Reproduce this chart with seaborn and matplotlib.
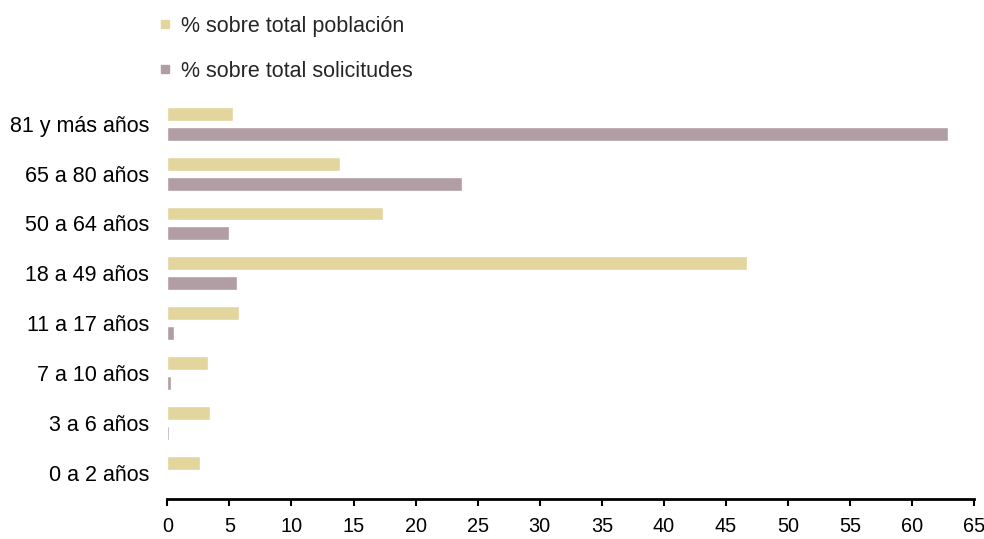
import matplotlib
matplotlib.use("Agg")
import matplotlib.pyplot as plt
from matplotlib.lines import Line2D
import seaborn as sns
import pandas as pd

categories = ["81 y más años", "65 a 80 años", "50 a 64 años", "18 a 49 años",
              "11 a 17 años", "7 a 10 años", "3 a 6 años", "0 a 2 años"]
poblacion = [5.3, 13.9, 17.4, 46.7, 5.8, 3.3, 3.45, 2.65]
solicitudes = [62.9, 23.75, 4.95, 5.6, 0.55, 0.3, 0.15, 0.05]
series = ["% sobre total población", "% sobre total solicitudes"]
colors = ["#E3D59E", "#B19DA4"]
xticks = list(range(0, 70, 5))

df = pd.DataFrame({
    "cat": categories * 2,
    "val": poblacion + solicitudes,
    "serie": [series[0]] * len(categories) + [series[1]] * len(categories),
})

sns.set_theme(style="white")
plt.rcParams["font.family"] = ["Liberation Sans", "DejaVu Sans"]

W, H = 984, 539
fig = plt.figure(figsize=(W / 100, H / 100), dpi=100)
x0, x1 = 167.3, 974.3
ytop, ybot = 93.7, 499.0
ax = fig.add_axes([x0 / W, (H - ybot) / H, (x1 - x0) / W, (ybot - ytop) / H])

sns.barplot(data=df, y="cat", x="val", hue="serie", order=categories,
            hue_order=series, palette=colors, width=0.8, gap=0.3,
            orient="h", ax=ax, legend=False, saturation=1)

FS = 15.5
ax.set_xlim(0, 65)
ax.set_ylim(7.52, -0.6)
ax.set_xticks(xticks)
ax.set_xticklabels([str(t) for t in xticks], fontsize=14.3)
ax.set_yticks(range(len(categories)))
ax.set_yticklabels(categories, fontsize=FS)
ax.set_xlabel("")
ax.set_ylabel("")
for s in ["top", "right", "left"]:
    ax.spines[s].set_visible(False)
ax.spines["bottom"].set_linewidth(2)
ax.spines["bottom"].set_color("black")
ax.tick_params(axis="x", direction="out", length=5, width=1.5, color="black",
               pad=8, labelcolor="black", bottom=True)
ax.tick_params(axis="y", length=0, pad=13, labelcolor="black")
ax.grid(False)

handles = [Line2D([0], [0], marker="s", linestyle="none", markersize=6,
                  markerfacecolor=c, markeredgecolor=c) for c in colors]
fig.legend(handles, series, loc="upper left",
           bbox_to_anchor=(159 / W, 1 - 16 / H), frameon=False, fontsize=FS,
           handlelength=0.6, handletextpad=0.4, labelspacing=1.1,
           borderaxespad=0, borderpad=0)

fig.savefig("out.png", dpi=100)
